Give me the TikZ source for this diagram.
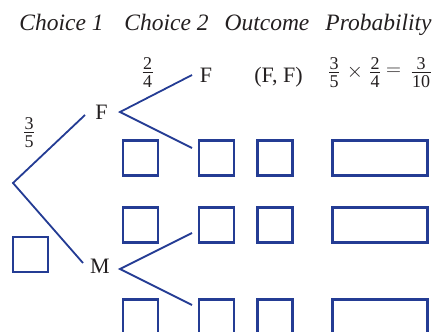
\documentclass[tikz,border=0pt]{standalone}
\usepackage{fontspec}
\setmainfont{Liberation Serif}
\definecolor{treeblue}{RGB}{36,60,148}
\definecolor{ink}{RGB}{35,31,32}
\newcommand{\fr}[2]{\vbox{\offinterlineskip
  \setbox0\hbox{\fontsize{18}{18}\selectfont #1}%
  \setbox2\hbox{\fontsize{18}{18}\selectfont #2}%
  \dimen0=\ifdim\wd0>\wd2 \wd0\else\wd2\fi
  \advance\dimen0 by 1pt
  \hbox to\dimen0{\hss\box0\hss}\kern2.2pt\hrule height0.9pt\kern2.4pt\hbox to\dimen0{\hss\box2\hss}}}
\begin{document}
\begin{tikzpicture}[x=1pt,y=-1pt,
  branch/.style={draw=treeblue,line width=1.8pt},
  sqbox/.style={draw=treeblue,line width=2.3pt,rectangle,inner sep=0pt,minimum width=35pt,minimum height=35pt},
  widebox/.style={draw=treeblue,line width=2.3pt,rectangle,inner sep=0pt,minimum width=95pt,minimum height=35pt},
  head/.style={font=\fontsize{23.5}{25}\selectfont\itshape,text=ink,anchor=base,inner sep=0pt},
  lbl/.style={font=\fontsize{22}{24}\selectfont,text=ink,anchor=base,inner sep=0pt},
  frl/.style={font=\fontsize{22}{24}\selectfont,text=ink,inner sep=0pt,anchor=center}]
\useasboundingbox (0,0) rectangle (435,331);
\clip (0,0) rectangle (435,331);
% headers
\node[head] (h1) at (61.5,31) {Choice 1};
\node[head] (h2) at (166.5,31) {Choice 2};
\node[head] (h3) at (267,31) {Outcome};
\node[head] (h4) at (378.5,31) {Probability};
% tree points
\coordinate (root) at (13,183);
\coordinate (rF) at (85,115);
\coordinate (rM) at (83,263);
\coordinate (vF) at (120,112);
\coordinate (vFu) at (192,75);
\coordinate (vFd) at (192,148);
\coordinate (vM) at (120,269);
\coordinate (vMu) at (192,233);
\coordinate (vMd) at (192,305);
% labels
\node[lbl] (F1) at (101.5,120) {F};
\node[lbl] (M1) at (100,273) {M};
\node[lbl] (F2) at (206,83) {F};
\node[lbl] (out) at (278.5,83) {(F, F)};
\node[frl] (pa) at (334,72.5) {\fr{3}{5}};
\node[frl] (pt) at (355,72) {$\times$};
\node[frl] (pb) at (375,72.5) {\fr{2}{4}};
\node[frl] (pe) at (393.5,72) {$=$};
\node[frl] (pc) at (421,72.5) {\fr{3}{10}};
\node[frl] (p24) at (147.5,72.5) {\fr{2}{4}};
\node[frl] (p35) at (29,132.5) {\fr{3}{5}};
% branches
\draw[branch] (rF) -- (root) -- (rM);
\draw[branch] (vFu) -- (vF) -- (vFd);
\draw[branch] (vMu) -- (vM) -- (vMd);
% boxes
\node[sqbox] (b11) at (140.5,158) {};
\node[sqbox] (b12) at (216.5,158) {};
\node[sqbox] (b13) at (275,158) {};
\node[widebox] (b14) at (380,158) {};
\node[sqbox] (b21) at (140.5,225) {};
\node[sqbox] (b22) at (216.5,225) {};
\node[sqbox] (b23) at (275,225) {};
\node[widebox] (b24) at (380,225) {};
\node[sqbox] (b31) at (140.5,317) {};
\node[sqbox] (b32) at (216.5,317) {};
\node[sqbox] (b33) at (275,317) {};
\node[widebox] (b34) at (380,317) {};
\node[sqbox] (b0) at (30.5,254.5) {};
\end{tikzpicture}
\end{document}
